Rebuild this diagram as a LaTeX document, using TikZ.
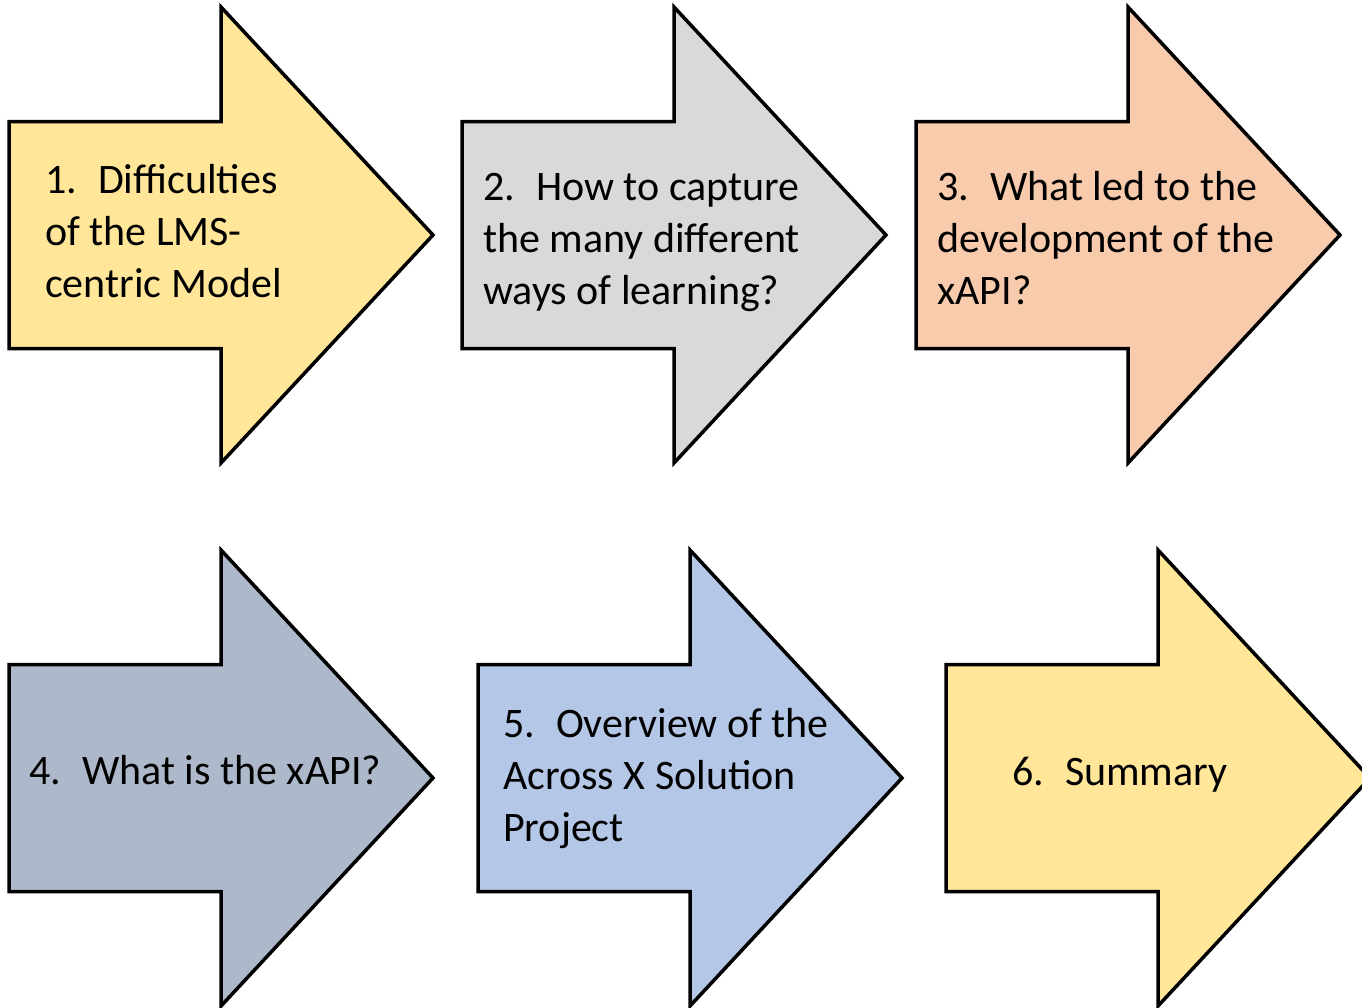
\documentclass[tikz,border=0pt]{standalone}
\usepackage{fontspec}
\setmainfont{Carlito}
\usetikzlibrary{positioning}
\definecolor{sandyellow}{HTML}{FFE699}
\definecolor{lightgrey}{HTML}{D9D9D9}
\definecolor{peach}{HTML}{F8CBAD}
\definecolor{slate}{HTML}{ADB9CA}
\definecolor{paleblue}{HTML}{B4C7E7}
\tikzstyle{blockarrow}=[draw=black,line width=3.5pt,line join=miter]
\tikzstyle{arrowtext}=[anchor=base west,align=left,inner sep=0pt,font=\fontsize{42}{52}\selectfont]
\newcommand{\num}[1]{#1.\hspace{0.5em}}

\begin{document}
\begin{tikzpicture}[x=1pt,y=-1pt]
    \useasboundingbox (0,0) rectangle (1362,1007);

    % the six block arrows: left edge / centre line / fill
    \foreach \ax/\ay/\col in {9/235/sandyellow, 462/235/lightgrey, 916/235/peach, 9/778/slate, 478/778/paleblue, 946/778/sandyellow}
        \draw[blockarrow,fill=\col] (\ax,\ay-113.5) -- (\ax+212,\ay-113.5) -- (\ax+212,\ay-228) -- (\ax+424,\ay)
            -- (\ax+212,\ay+228) -- (\ax+212,\ay+113.5) -- (\ax,\ay+113.5) -- cycle;

    % top row (base = last line)
    \node[arrowtext] (diff) at (45,297) {\num{1}Difficulties\\of the LMS-\\centric Model};
    \node[arrowtext] (capture) at (483,304) {\num{2}How to capture\\the many different\\ways of learning?};
    \node[arrowtext] (origin) at (937,304) {\num{3}What led to the\\development of the\\xAPI?};

    % bottom row
    \node[arrowtext] (xapi) at (29,784) {\num{4}What is the xAPI?};
    \node[arrowtext] (acrossx) at (503,841) {\num{5}Overview of the\\Across X Solution\\Project};
    \node[arrowtext] (summary) at (1012,785) {\num{6}Summary};
\end{tikzpicture}
\end{document}
